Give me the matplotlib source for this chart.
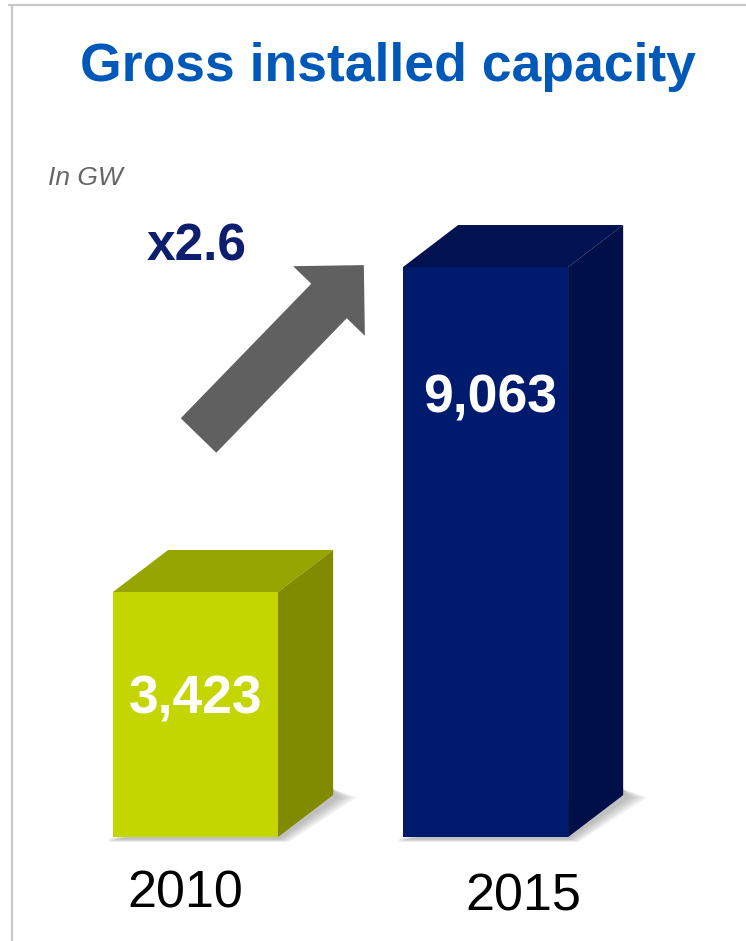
import numpy as np
import matplotlib
matplotlib.use("Agg")
import matplotlib.pyplot as plt
from matplotlib.patches import Polygon, FancyArrow

plt.rcParams['font.family'] = ['Liberation Sans', 'DejaVu Sans']

# --- Data ---
years = ["2010", "2015"]
values = [3423, 9063]
value_labels = ["3,423", "9,063"]
title = "Gross installed capacity"
unit = "In GW"
growth = "x2.6"

# --- Style ---
front_colors = ["#C4D600", "#001A6E"]
top_colors = ["#97A500", "#00124F"]
side_colors = ["#808B00", "#000F47"]

W, H = 746, 941
fig = plt.figure(figsize=(W / 100, H / 100), dpi=100)
fig.patch.set_facecolor("white")

# main axes spans whole figure, scales chosen so bars land where the reference puts them
ax = fig.add_axes([0, 0, 1, 1])
ax.set_xlim(-0.674, 1.898)
ax.set_ylim(-2633, 13697)
ax.axis("off")

x = np.arange(len(values))
width = 0.569
base = -830            # bars rise from a floor a little below zero
ddx, ddy = 0.19, 729   # 3D depth offset (data units)

for i, v in enumerate(values):
    xl, xr = x[i] - width / 2, x[i] + width / 2
    # soft floor shadow, darker close to the bar
    for k in range(6):
        g = 0.006 * (6 - k)
        shadow = Polygon([(xl - 0.02, base - 30 - g * 1500),
                          (xr + g, base - 30 - g * 1500),
                          (xr + ddx + 0.01 + g * 2, base + ddy - 40),
                          (xr + ddx, base + ddy + 100)],
                         closed=True, facecolor="#707070", alpha=0.09,
                         edgecolor="none", zorder=1)
        ax.add_patch(shadow)
    ax.bar(x[i], v - base, bottom=base, width=width, color=front_colors[i],
           edgecolor="none", zorder=3)
    top = Polygon([(xl, v), (xr, v), (xr + ddx, v + ddy), (xl + ddx, v + ddy)],
                  closed=True, facecolor=top_colors[i], edgecolor="none", zorder=3)
    side = Polygon([(xr, base), (xr, v), (xr + ddx, v + ddy), (xr + ddx, base + ddy)],
                   closed=True, facecolor=side_colors[i], edgecolor="none", zorder=3)
    ax.add_patch(top)
    ax.add_patch(side)

label_x = [0.0, 0.015]
label_y = [1550, 6790]
for i, lab in enumerate(value_labels):
    ax.text(x[i] + label_x[i], label_y[i], lab, color="white", fontsize=38.5,
            fontweight="bold", ha="center", va="center", zorder=5)

# overlay in pixel coords for decorations
ov = fig.add_axes([0, 0, 1, 1])
ov.set_xlim(0, W)
ov.set_ylim(H, 0)
ov.axis("off")
ov.patch.set_alpha(0)

# frame (top and left only)
ov.plot([8, W], [5, 5], color="#C8C8C8", lw=1.6, solid_capstyle="butt")
ov.plot([11.5, 11.5], [5, H], color="#C8C8C8", lw=1.6, solid_capstyle="butt")

# growth arrow
ov.add_patch(FancyArrow(198.5, 435.5, 130.5, -134.5, width=49.5, head_width=100,
                        head_length=50, length_includes_head=False,
                        color="#606060", lw=0))

ov.text(388, 67, title, color="#0058B8", fontsize=38.5, fontweight="bold",
        ha="center", va="center")
ov.text(48, 178, unit, color="#666666", fontsize=19, style="italic",
        ha="left", va="center")
ov.text(197, 247, growth, color="#0D1E6E", fontsize=37, fontweight="bold",
        ha="center", va="center")
ov.text(185, 894, years[0], color="black", fontsize=37.5, ha="center", va="center")
ov.text(523, 897, years[1], color="black", fontsize=37.5, ha="center", va="center")

fig.savefig("out.png", dpi=100)
